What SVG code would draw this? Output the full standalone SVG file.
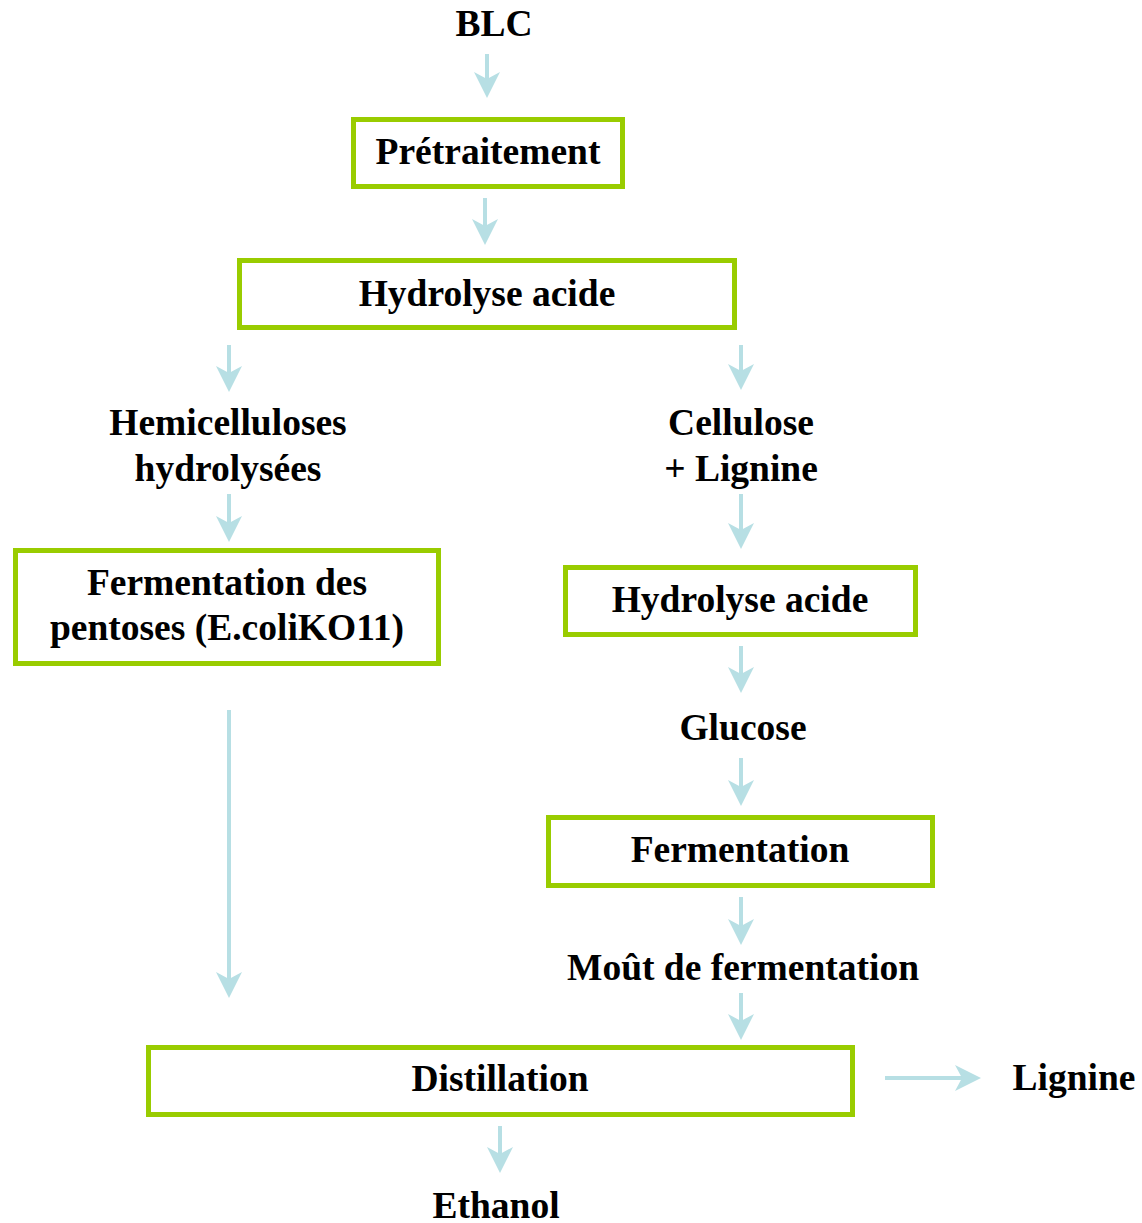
<svg xmlns="http://www.w3.org/2000/svg" width="1142" height="1223" viewBox="0 0 1142 1223">
  <style>
    .box { fill: #ffffff; stroke: #99cc00; stroke-width: 5; }
    .lbl { font-family: "Liberation Serif", "Times New Roman", serif; font-weight: bold; font-size: 37.5px; fill: #000000; text-anchor: middle; }
    .arr { stroke: #b7dfe4; stroke-width: 4; fill: none; marker-end: url(#head); }
  </style>
  <defs>
    <marker id="head" markerUnits="userSpaceOnUse" markerWidth="28" markerHeight="28" viewBox="0 -14 28 28" refX="10" refY="0" orient="auto">
      <path d="M0,-13 L26,0 L0,13 L7,0 z" fill="#b7dfe4"/>
    </marker>
  </defs>
  <rect width="1142" height="1223" fill="#ffffff"/>

  <!-- flow connectors (line end = arrow tip - 16) -->
  <g id="connectors">
    <line class="arr" x1="487" y1="54" x2="487" y2="82"/>
    <line class="arr" x1="485" y1="198" x2="485" y2="229"/>
    <line class="arr" x1="229" y1="345" x2="229" y2="376"/>
    <line class="arr" x1="741" y1="345" x2="741" y2="374"/>
    <line class="arr" x1="229" y1="494" x2="229" y2="526"/>
    <line class="arr" x1="741" y1="494" x2="741" y2="533"/>
    <line class="arr" x1="741" y1="646" x2="741" y2="677"/>
    <line class="arr" x1="741" y1="758" x2="741" y2="790"/>
    <line class="arr" x1="741" y1="897" x2="741" y2="929"/>
    <line class="arr" x1="741" y1="993" x2="741" y2="1024"/>
    <line class="arr" x1="229" y1="710" x2="229" y2="982"/>
    <line class="arr" x1="500" y1="1126" x2="500" y2="1157"/>
    <line class="arr" x1="885" y1="1078" x2="965" y2="1078"/>
  </g>

  <g id="blc"><text class="lbl" x="494" y="36">BLC</text></g>

  <g id="pretraitement">
    <rect class="box" x="353.5" y="119.5" width="269" height="67"/>
    <text class="lbl" x="488" y="164">Prétraitement</text>
  </g>

  <g id="hydrolyse-acide-1">
    <rect class="box" x="239.5" y="260.5" width="495" height="67"/>
    <text class="lbl" x="487" y="306">Hydrolyse acide</text>
  </g>

  <g id="hemicelluloses">
    <text class="lbl" x="228" y="435">Hemicelluloses</text>
    <text class="lbl" x="228" y="481">hydrolysées</text>
  </g>

  <g id="cellulose-lignine">
    <text class="lbl" x="741" y="435">Cellulose</text>
    <text class="lbl" x="741" y="481">+ Lignine</text>
  </g>

  <g id="fermentation-pentoses">
    <rect class="box" x="15.5" y="550.5" width="423" height="113"/>
    <text class="lbl" x="227" y="595">Fermentation des</text>
    <text class="lbl" x="227" y="640">pentoses (E.coliKO11)</text>
  </g>

  <g id="hydrolyse-acide-2">
    <rect class="box" x="565.5" y="567.5" width="350" height="67"/>
    <text class="lbl" x="740" y="612">Hydrolyse acide</text>
  </g>

  <g id="glucose"><text class="lbl" x="743" y="740">Glucose</text></g>

  <g id="fermentation">
    <rect class="box" x="548.5" y="817.5" width="384" height="68"/>
    <text class="lbl" x="740" y="862">Fermentation</text>
  </g>

  <g id="mout"><text class="lbl" x="743" y="980">Moût de fermentation</text></g>

  <g id="distillation">
    <rect class="box" x="148.5" y="1047.5" width="704" height="67"/>
    <text class="lbl" x="500" y="1091">Distillation</text>
  </g>

  <g id="lignine"><text class="lbl" x="1074" y="1090">Lignine</text></g>

  <g id="ethanol"><text class="lbl" x="496" y="1218">Ethanol</text></g>
</svg>
